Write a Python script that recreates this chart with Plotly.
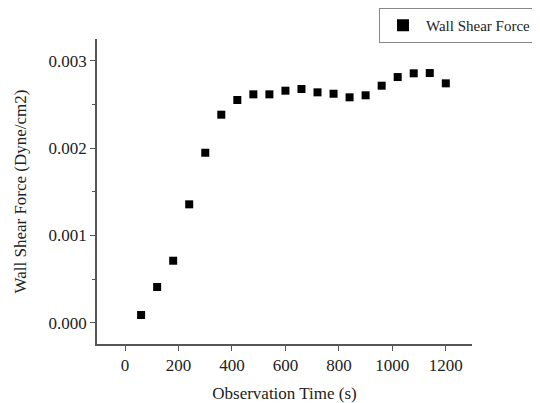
import plotly.graph_objects as go

time_s = [60, 120, 180, 240, 300, 360, 420, 480, 540, 600, 660, 720, 780, 840, 900, 960, 1020, 1080, 1140, 1200]
wall_shear = [0.000088, 0.000409, 0.00071, 0.001356, 0.001947, 0.002383, 0.002551, 0.002616, 0.002616, 0.002658,
              0.002677, 0.002639, 0.002623, 0.002582, 0.002605, 0.002715, 0.002814, 0.002857, 0.00286, 0.002742]
series_name = "Wall Shear Force"
x_title = "Observation Time (s)"
y_title = "Wall Shear Force (Dyne/cm2)"
x_ticks = [0, 200, 400, 600, 800, 1000, 1200]
y_ticks = [0.0, 0.001, 0.002, 0.003]

font_family = "Liberation Serif, Times New Roman, serif"
text_color = "#222222"
axis_color = "#555555"

# page is shown with an 8px body margin, so the figure is 8px smaller
W, H = 532, 395

fig = go.Figure()
fig.add_trace(go.Scatter(
    x=time_s, y=wall_shear, mode="markers", name=series_name,
    marker=dict(symbol="square", size=8, color="#000000"),
    showlegend=True,
))

fig.update_layout(
    width=W, height=H,
    margin=dict(l=89, r=68, t=31, b=59, autoexpand=False),
    paper_bgcolor="white", plot_bgcolor="white",
    font=dict(family=font_family, size=17, color=text_color),
    showlegend=True,
    legend=dict(
        xref="container", yref="container",
        x=371 / W, y=1.0, xanchor="left", yanchor="top",
        bordercolor="#888888", borderwidth=1, bgcolor="white",
        font=dict(family=font_family, size=15, color=text_color),
        itemsizing="constant", tracegroupgap=0, itemwidth=36,
    ),
    xaxis=dict(
        range=[-105, 1298], tickmode="array", tickvals=x_ticks,
        ticktext=[str(v) for v in x_ticks],
        showgrid=False, zeroline=False, showline=True, linecolor=axis_color, linewidth=1.5,
        ticks="outside", ticklen=5, tickcolor=axis_color, tickwidth=1,
        tickfont=dict(size=17), automargin=False,
        title=dict(text=x_title, font=dict(size=17), standoff=17),
    ),
    yaxis=dict(
        range=[-0.000244, 0.00325], tickmode="array", tickvals=y_ticks,
        ticktext=["%.3f" % v for v in y_ticks],
        showgrid=False, zeroline=False, showline=True, linecolor=axis_color, linewidth=1.5,
        ticks="outside", ticklen=5, tickcolor=axis_color, tickwidth=1,
        tickfont=dict(size=17), automargin=False,
        minor=dict(dtick=0.0005, tick0=0, ticks="outside", ticklen=3, tickcolor=axis_color, showgrid=False),
        title=dict(text=y_title, font=dict(size=17), standoff=18),
    ),
)

fig.write_html("out.html")
